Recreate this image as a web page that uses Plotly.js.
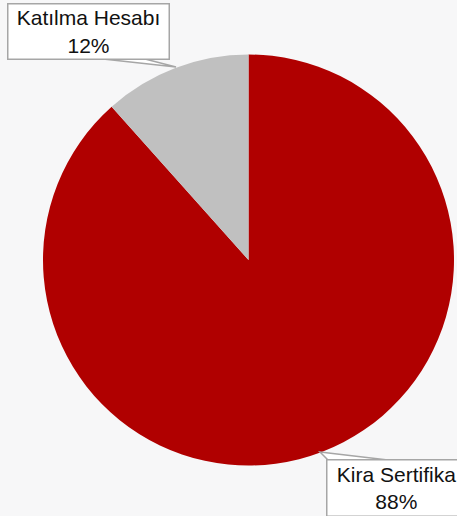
<!DOCTYPE html>
<html><head><meta charset="utf-8">
<script src="https://cdn.plot.ly/plotly-3.0.1.min.js"></script>
<style>html,body{margin:0;padding:0;background:#f7f7f8;}#chart{width:457px;height:516px;}</style>
</head><body><div id="chart"></div>
<script>
const labels = ["Kira Sertifika", "Katılma Hesabı"];
const values = [88.4, 11.6];
const percentText = ["88%", "12%"];
const colors = ["#b00000", "#c0c0c0"];

const W = 457, H = 516;
const px = x => x / W, py = y => 1 - y / H;
const cx = 248.5, cy = 260, r = 205.5;

function tri(pts) {
  return 'M' + pts.map(p => px(p[0]) + ',' + py(p[1])).join(' L') + ' Z';
}

const data = [{
  type: 'pie',
  labels: labels,
  values: values,
  sort: false,
  direction: 'clockwise',
  rotation: 0,
  marker: {colors: colors, line: {width: 0}},
  textinfo: 'none',
  hoverinfo: 'label+percent',
  domain: {x: [px(cx - r), px(cx + r)], y: [py(cy + r), py(cy - r)]},
  showlegend: false
}];

const layout = {
  width: W, height: H,
  margin: {l: 0, r: 0, t: 0, b: 0},
  paper_bgcolor: '#f7f7f8',
  plot_bgcolor: '#f7f7f8',
  showlegend: false,
  shapes: [
    {type: 'path', xref: 'paper', yref: 'paper', path: tri([[103, 59], [176, 67], [145, 59]]),
     fillcolor: '#ffffff', line: {color: '#a6a6a6', width: 1.5}, layer: 'above'},
    {type: 'path', xref: 'paper', yref: 'paper', path: tri([[328, 460], [320, 452], [388, 460]]),
     fillcolor: '#ffffff', line: {color: '#a6a6a6', width: 1.5}, layer: 'above'}
  ],
  annotations: [
    {xref: 'paper', yref: 'paper', x: px(88.5), y: py(31.5), xanchor: 'center', yanchor: 'middle',
     text: labels[1] + '<br>' + percentText[1], showarrow: false,
     font: {family: 'Liberation Sans, Arial, sans-serif', size: 21, color: '#111111'},
     bgcolor: '#ffffff', bordercolor: '#a6a6a6', borderwidth: 1.5, width: 160, height: 54, borderpad: 0},
    {xref: 'paper', yref: 'paper', x: px(396), y: py(488), xanchor: 'center', yanchor: 'middle',
     text: labels[0] + '<br>' + percentText[0], showarrow: false,
     font: {family: 'Liberation Sans, Arial, sans-serif', size: 21, color: '#111111'},
     bgcolor: '#ffffff', bordercolor: '#a6a6a6', borderwidth: 1.5, width: 138, height: 55, borderpad: 0}
  ]
};

Plotly.newPlot('chart', data, layout, {displayModeBar: false, staticPlot: true});
</script></body></html>
